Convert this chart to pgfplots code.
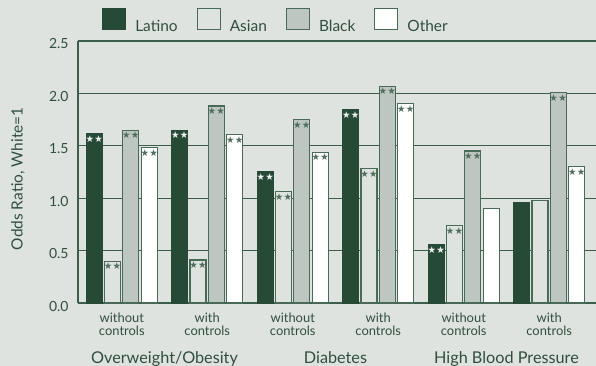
\documentclass[border=0pt]{standalone}
\usepackage{pgfplots}
\pgfplotsset{compat=1.18}
\usepackage{fontspec}
\setmainfont{Lato}
\newfontfamily\symfont{DejaVu Sans}

\definecolor{bg}{RGB}{223,227,223}
\definecolor{latc}{RGB}{39,74,55}
\definecolor{blkc}{RGB}{189,198,192}
\definecolor{gridc}{RGB}{62,94,76}
\definecolor{edgec}{RGB}{74,106,88}
\definecolor{txtc}{RGB}{47,79,62}
\definecolor{starc}{RGB}{80,110,94}

\def\sflag{s}
\newcommand\starpair{{\symfont\char"2605\kern0.3bp\char"2605}}

\pgfplotsset{
  barsty/.style={
    bar width=0.187,
    line width=1.1bp,
    point meta=explicit symbolic,
    nodes near coords={\edef\m{\pgfplotspointmeta}\ifx\m\sflag\starpair\fi},
    nodes near coords align={below},
    every node near coord/.append style={font=\fontsize{9.5}{10}\selectfont, inner sep=1.5bp, anchor=north},
    legend image code/.code={\draw[##1] (0bp,-3bp) rectangle (23bp,18bp);},
  },
}

\begin{document}
\begin{tikzpicture}
\path[use as bounding box, fill=bg] (-78bp,-63bp) rectangle (518bp,303bp);
\begin{axis}[
  at={(0,0)}, anchor=south west,
  scale only axis, width=518bp, height=262bp,
  ybar,
  xmin=-0.512, xmax=5.547, ymin=0, ymax=2.5,
  axis x line*=bottom, axis y line*=left,
  x axis line style={-, gridc, line width=1.2bp},
  y axis line style={-, gridc, line width=1.2bp},
  ytick={0,0.5,1,1.5,2,2.5},
  yticklabel style={/pgf/number format/.cd, fixed, fixed zerofill, precision=1, /tikz/.cd, font=\fontsize{14}{16}\selectfont, text=txtc, xshift=-6bp, yshift=-3bp},
  /pgf/number format/assume math mode=true,
  ymajorgrids, grid style={gridc, line width=1.2bp},
  xtick={0,1,2,3,4,5},
  xticklabels={without\\controls, with\\controls, without\\controls, with\\controls, without\\controls, with\\controls},
  xticklabel style={align=center, font=\fontsize{13}{13.3}\selectfont, text=txtc, yshift=-6.5bp},
  major tick length=0pt,
  ylabel={Odds Ratio, White=1},
  every axis y label/.style={at={(axis description cs:-0.1158,0.474)}, rotate=90, anchor=center, font=\fontsize{15.5}{17}\selectfont, text=txtc},
  clip=false,
  legend columns=-1,
  legend style={draw=none, fill=none, inner sep=0pt, at={(axis description cs:0.0463,1.128)}, anchor=north west,
    font=\fontsize{15.5}{17}\selectfont, text=txtc, nodes={inner sep=0pt},
    /tikz/every odd column/.append style={column sep=9bp},
    /tikz/every even column/.append style={column sep=19bp}},
]
% Latino
\addplot[barsty, fill=latc, draw=latc, bar shift=-0.322,
  every node near coord/.append style={text=white!92!latc}]
  coordinates {(0,1.62)[s] (1,1.65)[s] (2,1.25)[s] (3,1.85)[s] (4,0.56)[s] (5,0.96)[n]};
% Asian
\addplot[barsty, fill=bg, draw=edgec, bar shift=-0.108,
  every node near coord/.append style={text=starc}]
  coordinates {(0,0.40)[s] (1,0.41)[s] (2,1.06)[s] (3,1.28)[s] (4,0.74)[s] (5,0.98)[n]};
% Black
\addplot[barsty, fill=blkc, draw=edgec, bar shift=0.104,
  every node near coord/.append style={text=starc}]
  coordinates {(0,1.65)[s] (1,1.88)[s] (2,1.75)[s] (3,2.07)[s] (4,1.45)[s] (5,2.01)[s]};
% Other
\addplot[barsty, fill=white, draw=edgec, bar shift=0.322,
  every node near coord/.append style={text=starc}]
  coordinates {(0,1.48)[s] (1,1.61)[s] (2,1.44)[s] (3,1.90)[s] (4,0.90)[n] (5,1.30)[s]};
\legend{Latino, Asian, Black, Other}

% outcome names under each pair of groups
\node[anchor=base, font=\fontsize{16.3}{19}\selectfont, text=txtc, yshift=-60bp] at (axis cs:0.5,0) {Overweight/Obesity};
\node[anchor=base, font=\fontsize{16.3}{19}\selectfont, text=txtc, yshift=-60bp] at (axis cs:2.5,0) {Diabetes};
\node[anchor=base, font=\fontsize{16.3}{19}\selectfont, text=txtc, yshift=-60bp] at (axis cs:4.5,0) {High Blood Pressure};
\end{axis}
\end{tikzpicture}
\end{document}
